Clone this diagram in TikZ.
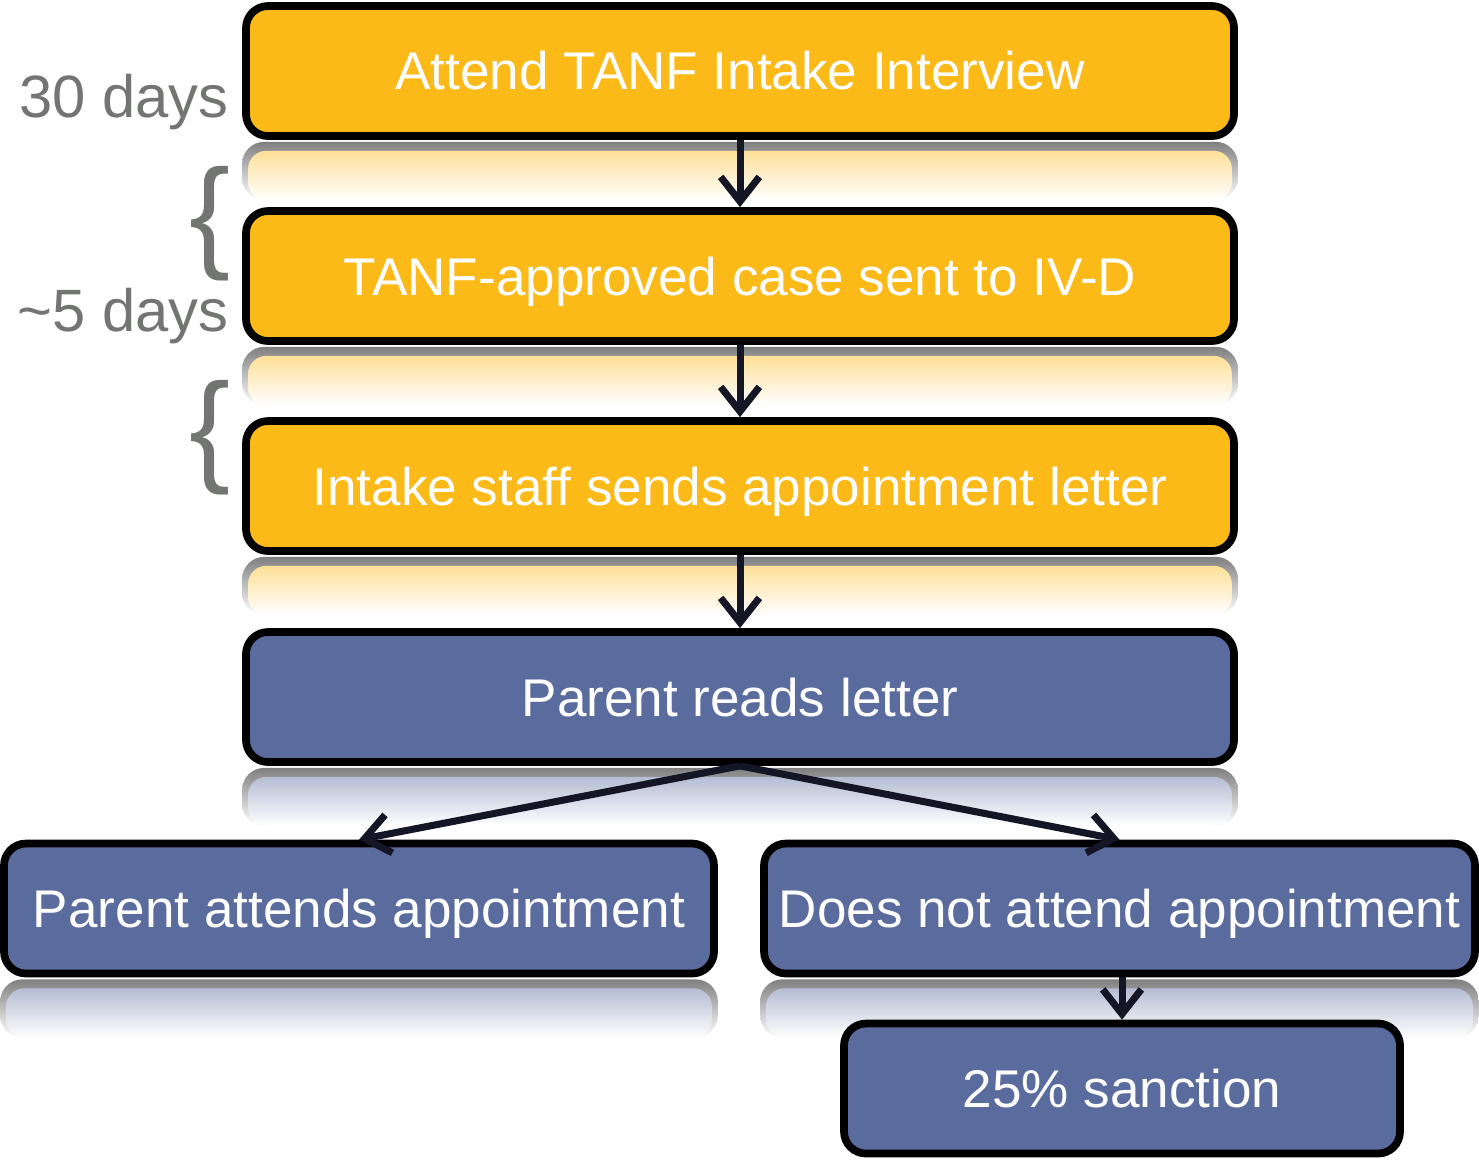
\documentclass[tikz,border=0pt]{standalone}
\usepackage{fontspec}
\setmainfont{Liberation Sans}
\usepackage{tikz}
\usetikzlibrary{arrows.meta, positioning, calc, backgrounds}
\usepackage{xcolor}
\definecolor{tanfgold}{RGB}{252,186,24}
\definecolor{ivdblue}{RGB}{90,107,158}
\definecolor{daygray}{RGB}{115,117,115}
\definecolor{arrownavy}{RGB}{20,22,38}
\tikzset{
	stepbox/.style={draw=black, line width=2.2pt, rounded corners=0.22cm, text=white,
		font=\fontsize{15.1}{18}\selectfont, minimum height=1.30cm,
		text height=10.8pt, text depth=0pt, inner sep=0pt},
	goldbox/.style={stepbox, fill=tanfgold, minimum width=9.88cm},
	bluebox/.style={stepbox, fill=ivdblue},
	flow/.style={draw=arrownavy, line width=2pt, -{Straight Barb[length=7pt,width=11pt]}},
	daylabel/.style={text=daygray, font=\fontsize{17}{20}\selectfont, inner sep=0pt},
	bracelabel/.style={text=daygray, font=\fontsize{35}{35}\selectfont, inner sep=0pt}
}

\begin{document}
\begin{tikzpicture}
			\useasboundingbox (0,0) rectangle (14.79,-11.59);
			% TANF steps
			\node[goldbox] (attend) at (7.40,-0.71) {Attend TANF Intake Interview};
			\node[goldbox] (sent) at (7.40,-2.76) {TANF-approved case sent to IV-D};
			\node[goldbox] (letter) at (7.40,-4.86) {Intake staff sends appointment letter};
			% IV-D steps
			\node[bluebox, minimum width=9.88cm] (reads) at (7.40,-6.97) {Parent reads letter};
			\node[bluebox, minimum width=7.10cm] (attends) at (3.59,-9.085) {Parent attends appointment};
			\node[bluebox, minimum width=7.11cm] (notattend) at (11.195,-9.085) {Does not attend appointment};
			\node[bluebox, minimum width=5.56cm] (sanction) at (11.22,-10.885) {25\% sanction};
			% Reflections
			\begin{scope}[on background layer]
				\foreach \b/\c in {attend/tanfgold, sent/tanfgold, letter/tanfgold, reads/ivdblue, attends/ivdblue, notattend/ivdblue}{
					\shade[top color=black!50, bottom color=white, rounded corners=0.22cm]
					($(\b.south west)+(0,-0.02)$) rectangle ($(\b.south east)+(0,-0.6)$);
					\shade[top color=\c!45, bottom color=white, rounded corners=0.18cm]
					($(\b.south west)+(0.06,-0.11)$) rectangle ($(\b.south east)+(-0.06,-0.6)$);
				}
			\end{scope}
			% Arrows
			\draw[flow] (attend.south) -- (sent.north);
			\draw[flow] (sent.south) -- (letter.north);
			\draw[flow] (letter.south) -- (reads.north);
			\draw[flow] (reads.south) -- (attends.north);
			\draw[flow] (reads.south) -- (notattend.north);
			\draw[flow] (sanction.north |- notattend.south) -- (sanction.north);
			% Time labels
			\node[daylabel, anchor=base east] (thirty) at (2.29,-1.17) {30 days};
			\node[daylabel, anchor=base east] (five) at (2.29,-3.31) {\textasciitilde 5 days};
			\node[bracelabel] (braceone) at (2.10,-2.235) {\{};
			\node[bracelabel] (bracetwo) at (2.10,-4.375) {\{};
\end{tikzpicture}
\end{document}
